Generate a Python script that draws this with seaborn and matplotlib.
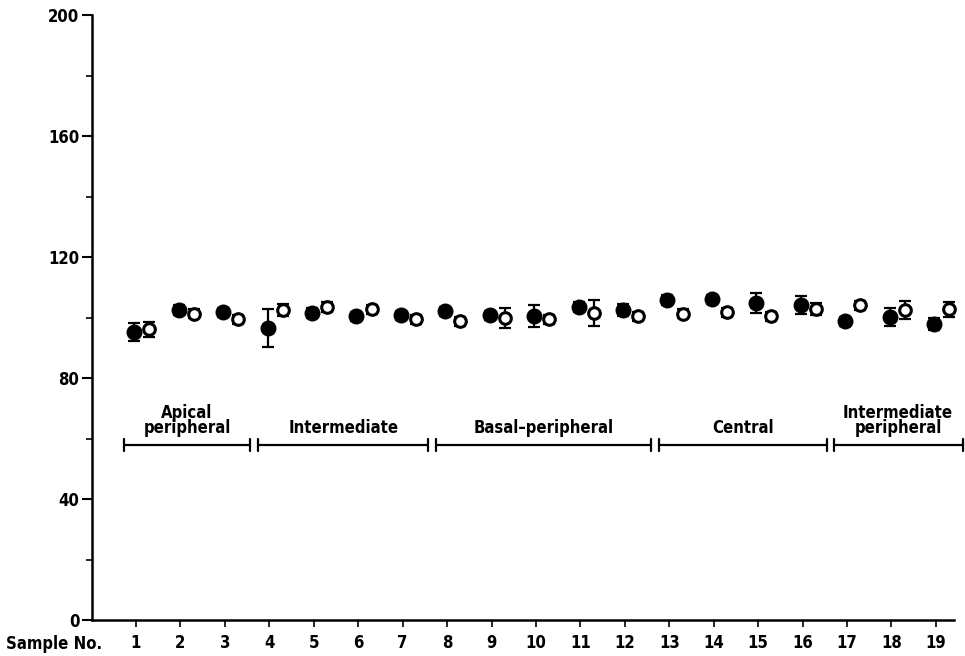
import numpy as np
import pandas as pd
import matplotlib
matplotlib.use('Agg')
import matplotlib.pyplot as plt
import seaborn as sns

samples = list(range(1, 20))
filled_mean = [95.2, 102.5, 101.8, 96.5, 101.5, 100.5, 100.8, 102.1, 100.8, 100.5,
               103.5, 102.5, 105.8, 106.1, 104.8, 104.1, 98.8, 100.2, 97.8]
filled_err = [3.1, 1.5, 1.5, 6.3, 1.5, 1.5, 1.5, 1.5, 1.5, 3.5,
              1.5, 2.0, 1.5, 1.5, 3.4, 3.0, 1.5, 3.0, 2.0]
open_mean = [96.2, 101.2, 99.5, 102.5, 103.5, 102.8, 99.5, 98.8, 99.8, 99.5,
             101.5, 100.5, 101.2, 101.8, 100.5, 102.8, 104.1, 102.5, 102.8]
open_err = [2.5, 1.5, 1.5, 2.0, 1.5, 1.5, 1.5, 1.5, 3.2, 1.5,
            4.4, 1.5, 1.5, 1.5, 1.5, 2.0, 1.5, 3.0, 2.5]

regions = ['Apical\nperipheral', 'Intermediate', 'Basal\u2013peripheral', 'Central',
           'Intermediate\nperipheral']
region_start = [0.73, 3.75, 7.76, 12.76, 16.70]
region_end = [3.57, 7.58, 12.58, 16.56, 19.60]
bracket_y = 58

sns.set_style('ticks')
plt.rcParams['font.family'] = ['DejaVu Sans']
plt.rcParams['font.weight'] = 'bold'
plt.rcParams['font.stretch'] = 'condensed'
plt.rcParams['text.color'] = 'black'
plt.rcParams['xtick.color'] = 'black'
plt.rcParams['ytick.color'] = 'black'
plt.rcParams['axes.edgecolor'] = 'black'

df = pd.DataFrame({'sample': samples, 'filled': filled_mean, 'filled_err': filled_err,
                   'open': open_mean, 'open_err': open_err})
df['x_filled'] = df['sample'] - 0.04
df['x_open'] = df['sample'] + 0.30

fig = plt.figure(figsize=(9.65, 6.56), dpi=100)
ax = fig.add_axes([0.0953, 0.0549, 0.893, 0.922])

ax.errorbar(df['x_filled'], df['filled'], yerr=df['filled_err'], fmt='none',
            ecolor='black', elinewidth=1.6, capsize=4, capthick=1.6, zorder=2)
ax.errorbar(df['x_open'], df['open'], yerr=df['open_err'], fmt='none',
            ecolor='black', elinewidth=1.6, capsize=4, capthick=1.6, zorder=2)
sns.scatterplot(data=df, x='x_filled', y='filled', ax=ax, s=110, color='black',
                edgecolor='black', linewidth=1, zorder=3)
sns.scatterplot(data=df, x='x_open', y='open', ax=ax, s=70, color='white',
                edgecolor='black', linewidth=2.2, zorder=3, clip_on=False)

# region brackets
for name, x0, x1 in zip(regions, region_start, region_end):
    ax.plot([x0, x1], [bracket_y, bracket_y], color='black', lw=1.6, clip_on=False)
    ax.plot([x0, x0], [bracket_y - 2, bracket_y + 2], color='black', lw=1.6, clip_on=False)
    ax.plot([x1, x1], [bracket_y - 2, bracket_y + 2], color='black', lw=1.6, clip_on=False)
    ax.text((x0 + x1) / 2, bracket_y + 2.5, name, ha='center', va='bottom',
            fontsize=12, fontweight='bold', linespacing=0.8)

ax.set_xlim(0.01, 19.4)
ax.set_ylim(0, 200)
ax.set_xticks(samples)
ax.set_xticklabels([str(s) for s in samples], fontsize=12, fontweight='bold')
ax.set_yticks([0, 40, 80, 120, 160, 200])
ax.set_yticks(np.arange(20, 200, 40), minor=True)
ax.tick_params(axis='y', labelsize=12, length=7, width=1.5, pad=2)
ax.tick_params(axis='y', which='minor', length=4, width=1.2)
ax.tick_params(axis='x', length=5, width=1.2, pad=5)
for lbl in ax.get_yticklabels():
    lbl.set_fontweight('bold')
ax.set_xlabel('')
ax.set_ylabel('')
sns.despine(ax=ax)
ax.spines['left'].set_linewidth(1.8)
ax.spines['bottom'].set_linewidth(1.8)

ax.text(-0.1, -0.04, 'Sample No.', transform=ax.transAxes, ha='left', va='center',
        fontsize=12, fontweight='bold')

fig.savefig('out.png', dpi=100)
